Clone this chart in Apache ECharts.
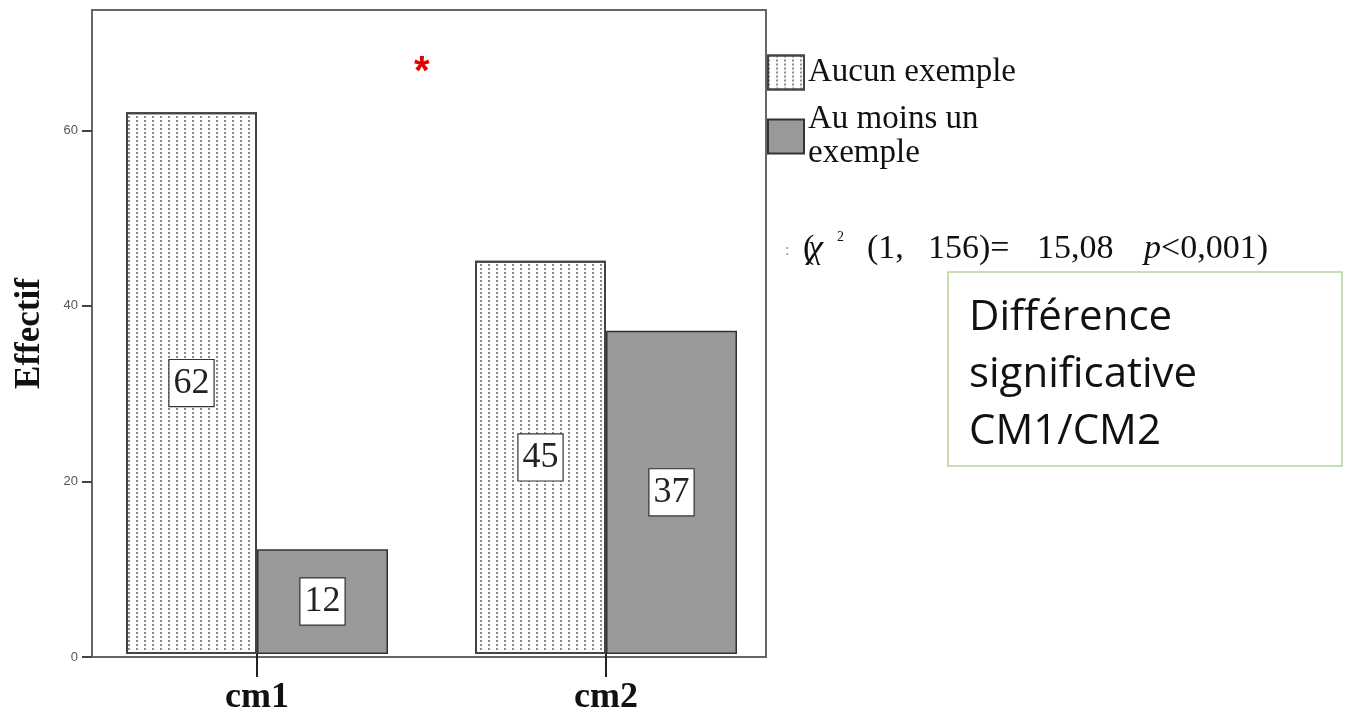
<!DOCTYPE html>
<html>
<head>
<meta charset="utf-8">
<style>html,body{margin:0;padding:0;background:#fff;}#c{width:1348px;height:716px;}</style>
<script src="https://cdn.jsdelivr.net/npm/echarts@6/dist/echarts.min.js"></script>
</head>
<body>
<div id="c"></div>
<script>
var categories = ['cm1', 'cm2'];
var seriesNames = ['Aucun exemple', 'Au moins un\nexemple'];
var aucunExemple = [62, 45];
var auMoinsUnExemple = [12, 37];
var yTicks = [0, 20, 40, 60];
var yMax = 73.7;

var chart = echarts.init(document.getElementById('c'));
var serif = '"Liberation Serif", "DejaVu Serif", serif';
var labelStyle = {
  show: true, position: 'inside', fontFamily: serif, fontSize: 36, color: '#222',
  backgroundColor: '#fff', borderColor: '#333', borderWidth: 1.2, padding: [5, 4, 3, 4], lineHeight: 38,
  formatter: '{c}'
};
var rn = { fontFamily: serif, fontSize: 34, fontWeight: 'normal', color: '#111', lineHeight: 38, align: 'left' };
function r(extra) { return Object.assign({}, rn, extra); }
chart.setOption({
  animation: false,
  title: [
    { text: '*', left: 409, top: 48, textStyle: { color: '#e00000', fontSize: 40, fontWeight: 'bold', fontFamily: 'Liberation Sans' } },
    { text: ':', left: 780, top: 238, textStyle: { color: '#999', fontSize: 16, fontWeight: 'normal', fontFamily: serif } },
    {
      text: '{a|(}{x|χ}{s|2}{b|(1,}{c|156)=}{d|15,08}{p|p}{e|<0,001)}',
      left: 803, top: 230, padding: 0,
      textStyle: {
        rich: {
          a: r({ width: 5 }),
          x: r({ width: 29, fontStyle: 'italic' }),
          s: r({ width: 30, fontSize: 14, verticalAlign: 'top', lineHeight: 14, padding: [0, 0, 24, 0] }),
          b: r({ width: 61 }),
          c: r({ width: 109 }),
          d: r({ width: 107 }),
          p: r({ width: 17, fontStyle: 'italic' }),
          e: r({})
        }
      }
    },
    {
      text: 'Différence\nsignificative\nCM1/CM2',
      left: 948, top: 272,
      backgroundColor: '#fff', borderColor: '#b5d49a', borderWidth: 1.5,
      padding: [18, 10, 5, 21],
      textStyle: { fontFamily: '"Open Sans", "Noto Sans", sans-serif', fontSize: 42, fontWeight: 'normal', color: '#111', lineHeight: 57, width: 363 }
    }
  ],
  legend: {
    left: 767, top: 53, padding: 0, orient: 'vertical', itemWidth: 36, itemHeight: 34, itemGap: 8,
    icon: 'rect',
    textStyle: { fontFamily: serif, fontSize: 33, color: '#111', lineHeight: 34, padding: [5, 0, 0, -1] },
    data: seriesNames
  },
  grid: [
    { left: 92, right: 582, top: 10, bottom: 59, show: true, borderColor: '#666', borderWidth: 2, backgroundColor: 'transparent' },
    { left: 82.5, right: 567.5, top: 10, bottom: 59 }
  ],
  xAxis: [
    { gridIndex: 0, type: 'value', min: 0, max: 1, show: false },
    {
      gridIndex: 1, type: 'category', data: categories,
      axisLine: { show: false },
      axisTick: { show: true, alignWithLabel: true, length: 23, lineStyle: { color: '#222', width: 2 } },
      axisLabel: { fontFamily: serif, fontSize: 36, fontWeight: 'bold', color: '#111', margin: 26 }
    }
  ],
  yAxis: [
    {
      gridIndex: 0, type: 'value', min: 0, max: yMax, interval: 20,
      name: 'Effectif', nameLocation: 'middle', nameRotate: 90, nameGap: 45,
      nameTextStyle: { fontFamily: serif, fontSize: 35, fontWeight: 'bold', color: '#111' },
      axisLine: { show: true, lineStyle: { color: '#666', width: 2 } },
      axisTick: { show: true, length: 10, customValues: yTicks, lineStyle: { color: '#444', width: 2 } },
      axisLabel: { customValues: yTicks, fontFamily: '"Liberation Sans", sans-serif', fontSize: 13, color: '#555', margin: 14 },
      splitLine: { show: false }
    },
    { gridIndex: 1, type: 'value', min: 0, max: yMax, show: false }
  ],
  series: [
    {
      name: seriesNames[0], type: 'bar', xAxisIndex: 1, yAxisIndex: 1,
      data: aucunExemple, barWidth: 131, barGap: '0%',
      itemStyle: {
        color: '#fff', borderColor: '#444', borderWidth: 2,
        decal: { symbol: 'rect', symbolSize: 1, dashArrayX: [[2, 6]], dashArrayY: [2, 2], color: 'rgba(110,110,110,0.8)' }
      },
      label: labelStyle
    },
    {
      name: seriesNames[1], type: 'bar', xAxisIndex: 1, yAxisIndex: 1,
      data: auMoinsUnExemple, barWidth: 131, barGap: '0%',
      itemStyle: { color: '#999999', borderColor: '#333', borderWidth: 1.5 },
      label: labelStyle
    }
  ]
});
</script>
</body>
</html>
